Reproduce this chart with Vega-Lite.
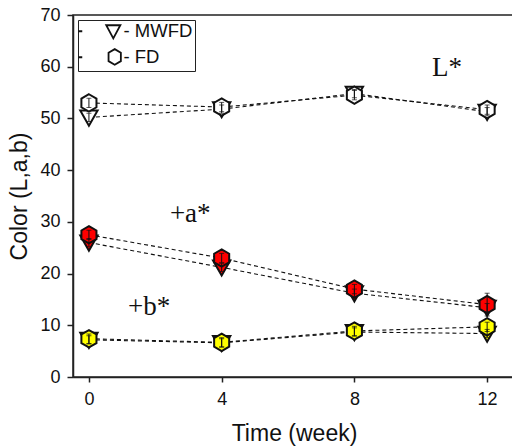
{
  "$schema": "https://vega.github.io/schema/vega-lite/v6.json",
  "width": 442,
  "height": 362,
  "autosize": {"type": "none"},
  "padding": {"left": 73, "top": 15, "right": 0, "bottom": 71},
  "background": "white",
  "config": {
    "view": {"stroke": "#222", "strokeWidth": 1.5},
    "font": "Liberation Sans",
    "axis": {
      "grid": false,
      "domainColor": "#222",
      "domainWidth": 1.5,
      "tickColor": "#222",
      "tickWidth": 1.5,
      "labelColor": "#111",
      "labelFont": "Liberation Sans",
      "labelFontSize": 18,
      "titleFont": "Liberation Sans",
      "titleFontWeight": "normal",
      "titleColor": "#111"
    }
  },
  "datasets": {
    "colour": [
      {"week": 0, "method": "MWFD", "param": "L", "value": 50.2, "err": 0.8},
      {"week": 4, "method": "MWFD", "param": "L", "value": 51.8, "err": 0.8},
      {"week": 8, "method": "MWFD", "param": "L", "value": 54.8, "err": 0.8},
      {"week": 12, "method": "MWFD", "param": "L", "value": 51.3, "err": 0.8},
      {"week": 0, "method": "MWFD", "param": "a", "value": 26.0, "err": 0.8},
      {"week": 4, "method": "MWFD", "param": "a", "value": 21.2, "err": 0.8},
      {"week": 8, "method": "MWFD", "param": "a", "value": 16.2, "err": 0.8},
      {"week": 12, "method": "MWFD", "param": "a", "value": 13.4, "err": 0.8},
      {"week": 0, "method": "MWFD", "param": "b", "value": 7.2, "err": 0.8},
      {"week": 4, "method": "MWFD", "param": "b", "value": 6.6, "err": 0.8},
      {"week": 8, "method": "MWFD", "param": "b", "value": 8.7, "err": 0.8},
      {"week": 12, "method": "MWFD", "param": "b", "value": 8.4, "err": 0.8},
      {"week": 0, "method": "FD", "param": "L", "value": 53.0, "err": 0.9},
      {"week": 4, "method": "FD", "param": "L", "value": 52.2, "err": 0.9},
      {"week": 8, "method": "FD", "param": "L", "value": 54.5, "err": 0.9},
      {"week": 12, "method": "FD", "param": "L", "value": 51.7, "err": 0.9},
      {"week": 0, "method": "FD", "param": "a", "value": 27.5, "err": 0.9},
      {"week": 4, "method": "FD", "param": "a", "value": 23.0, "err": 0.9},
      {"week": 8, "method": "FD", "param": "a", "value": 17.0, "err": 0.9},
      {"week": 12, "method": "FD", "param": "a", "value": 14.0, "err": 2.2},
      {"week": 0, "method": "FD", "param": "b", "value": 7.4, "err": 0.9},
      {"week": 4, "method": "FD", "param": "b", "value": 6.7, "err": 0.9},
      {"week": 8, "method": "FD", "param": "b", "value": 8.9, "err": 0.9},
      {"week": 12, "method": "FD", "param": "b", "value": 9.7, "err": 0.9}
    ],
    "labels": [
      {"week": 10.34, "value": 58.2, "label": "L*"},
      {"week": 2.44, "value": 30.0, "label": "+a*"},
      {"week": 1.18, "value": 12.0, "label": "+b*"}
    ]
  },
  "resolve": {"scale": {"shape": "independent"}, "legend": {"shape": "independent"}},
  "layer": [
    {
      "data": {"name": "colour"},
      "mark": {"type": "line", "color": "#111", "strokeWidth": 1.1, "strokeDash": [4, 3]},
      "encoding": {
        "x": {
          "field": "week",
          "type": "quantitative",
          "title": "Time (week)",
          "scale": {"domain": [-0.48, 12.84], "nice": false, "zero": false},
          "axis": {"values": [0, 4, 8, 12], "tickSize": 5, "labelPadding": 8, "titlePadding": 14, "titleFontSize": 23}
        },
        "y": {
          "field": "value",
          "type": "quantitative",
          "title": "Color (L,a,b)",
          "scale": {"domain": [0, 70], "nice": false},
          "axis": {
            "values": [0, 5, 10, 15, 20, 25, 30, 35, 40, 45, 50, 55, 60, 65, 70],
            "labelExpr": "datum.value % 10 === 0 ? datum.label : ''",
            "tickSize": {"expr": "datum.value % 10 === 0 ? 6 : 3"},
            "tickColor": {"expr": "datum.value % 10 === 0 ? '#222' : '#aaa'"},
            "labelPadding": 7,
            "titlePadding": 8,
            "titleFontSize": 23
          }
        },
        "detail": [{"field": "method"}, {"field": "param"}],
        "order": {"field": "week"}
      }
    },
    {
      "data": {"name": "colour"},
      "mark": {"type": "point", "filled": true, "opacity": 1, "stroke": "#111", "strokeWidth": 2, "size": 300},
      "encoding": {
        "x": {"field": "week", "type": "quantitative", "title": "Time (week)"},
        "y": {"field": "value", "type": "quantitative", "title": "Color (L,a,b)"},
        "shape": {
          "field": "method",
          "type": "nominal",
          "scale": {
            "domain": ["MWFD", "FD"],
            "range": ["M-1,-0.8L1,-0.8L0,0.95Z", "M0,-1L0.87,-0.5L0.87,0.5L0,1L-0.87,0.5L-0.87,-0.5Z"]
          },
          "legend": null
        },
        "fill": {
          "field": "param",
          "type": "nominal",
          "scale": {"domain": ["L", "a", "b"], "range": ["#ffffff", "#ff0000", "#ffff00"]},
          "legend": null
        }
      }
    },
    {
      "data": {"name": "colour"},
      "mark": {"type": "point", "filled": false, "opacity": 0, "size": 0},
      "encoding": {
        "x": {"field": "week", "type": "quantitative", "title": "Time (week)"},
        "y": {"field": "value", "type": "quantitative", "title": "Color (L,a,b)"},
        "shape": {
          "field": "method",
          "type": "nominal",
          "scale": {
            "domain": ["MWFD", "FD"],
            "range": ["M-1.55,0L-0.99,0M2.4,-0.85L4.4,-0.85L3.4,1Z", "M-1.55,0L-0.99,0M3.6,-1.15L4.47,-0.65L4.47,0.55L3.6,1.05L2.73,0.55L2.73,-0.65Z"]
          },
          "legend": {
            "orient": "none",
            "legendX": 5,
            "legendY": 5,
            "title": null,
            "strokeColor": "#222",
            "padding": 2,
            "rowPadding": 3,
            "labelFont": "Liberation Sans",
            "labelFontSize": 18.5,
            "labelColor": "#111",
            "labelOffset": 25,
            "labelExpr": "'- ' + datum.label",
            "symbolSize": 200,
            "symbolOpacity": 1,
            "symbolStrokeColor": "#111",
            "symbolStrokeWidth": 1.8,
            "symbolFillColor": "white"
          }
        }
      }
    },
    {
      "data": {"name": "colour"},
      "mark": {"type": "errorbar", "color": "#111", "ticks": true},
      "encoding": {
        "x": {"field": "week", "type": "quantitative", "title": "Time (week)"},
        "y": {"field": "value", "type": "quantitative", "title": "Color (L,a,b)"},
        "yError": {"field": "err"}
      }
    },
    {
      "data": {"name": "labels"},
      "mark": {"type": "text", "font": "Liberation Serif", "fontSize": 27, "align": "left", "baseline": "alphabetic", "color": "#111"},
      "encoding": {
        "x": {"field": "week", "type": "quantitative", "title": "Time (week)"},
        "y": {"field": "value", "type": "quantitative", "title": "Color (L,a,b)"},
        "text": {"field": "label"}
      }
    }
  ]
}
